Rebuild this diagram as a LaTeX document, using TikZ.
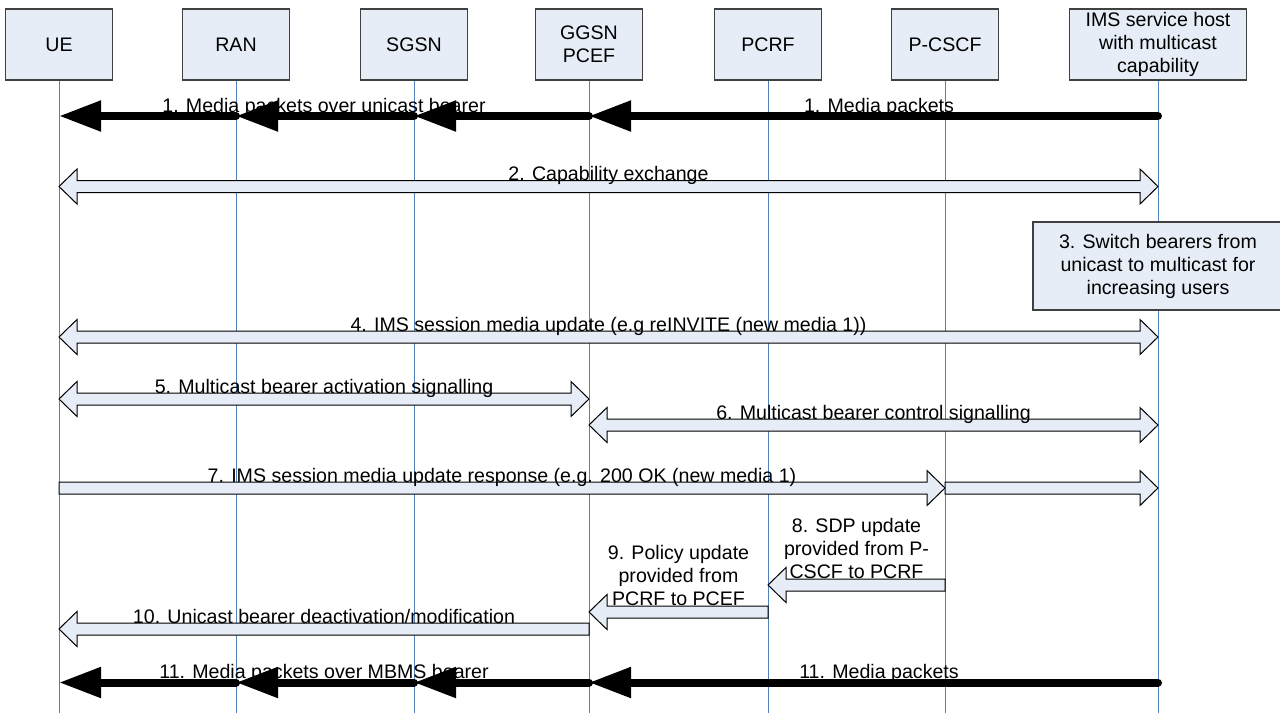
\documentclass[tikz,border=0pt]{standalone}
\usepackage{fontspec}
\setmainfont{Liberation Sans}
\usetikzlibrary{arrows.meta,calc}

\definecolor{boxfill}{RGB}{231,237,247}
\definecolor{lifeblue}{RGB}{79,129,189}
\definecolor{boxline}{RGB}{64,64,64}

\tikzset{
  hdr/.style={draw=boxline, line width=0.75pt, fill=boxfill,
    minimum width=53.5pt, minimum height=35.5pt, inner sep=0pt,
    align=center, font=\fontsize{9.8}{11.5}\selectfont},
  life/.style={draw=lifeblue, line width=0.5pt},
  hollow/.style={draw=black, line width=0.5pt, fill=boxfill, line join=miter},
  media/.style={line width=4pt, line cap=round,
    -{Triangle[length=21pt,width=14.5pt]}},
  lbl/.style={font=\fontsize{9.8}{11.5}\selectfont, inner sep=0pt, anchor=base},
  mlbl/.style={font=\fontsize{9.8}{11.5}\selectfont, inner sep=0pt,
    anchor=south, align=center},
}

% block arrow pointing right: tail on lifeline #1, tip on lifeline #2, row #3
\newcommand\msgR[3]{\filldraw[hollow] let \p1=(#1|-#3), \p2=(#2|-#3) in
  (\x1,\y1+3pt) -- (\x2-9pt,\y1+3pt) -- (\x2-9pt,\y1+8.75pt) -- (\x2,\y1)
  -- (\x2-9pt,\y1-8.75pt) -- (\x2-9pt,\y1-3pt) -- (\x1,\y1-3pt) -- cycle;}
% block arrow pointing left: tail on lifeline #1, tip on lifeline #2, row #3
\newcommand\msgL[3]{\filldraw[hollow] let \p1=(#1|-#3), \p2=(#2|-#3) in
  (\x1,\y1+3pt) -- (\x2+9pt,\y1+3pt) -- (\x2+9pt,\y1+8.75pt) -- (\x2,\y1)
  -- (\x2+9pt,\y1-8.75pt) -- (\x2+9pt,\y1-3pt) -- (\x1,\y1-3pt) -- cycle;}
% two-headed block arrow between lifelines #1 (left) and #2 (right), row #3
\newcommand\msgLR[3]{\filldraw[hollow] let \p1=(#1|-#3), \p2=(#2|-#3) in
  (\x1,\y1) -- (\x1+9pt,\y1+8.75pt) -- (\x1+9pt,\y1+3pt) -- (\x2-9pt,\y1+3pt)
  -- (\x2-9pt,\y1+8.75pt) -- (\x2,\y1) -- (\x2-9pt,\y1-8.75pt)
  -- (\x2-9pt,\y1-3pt) -- (\x1+9pt,\y1-3pt) -- (\x1+9pt,\y1-8.75pt) -- cycle;}

\begin{document}
\begin{tikzpicture}[x=0.5pt,y=-0.5pt]
\useasboundingbox (0,0) rectangle (1280,713);
\coordinate (bot) at (0,713);

% participants
\node[hdr] (ue)    at (59,44.5)  {UE};
\node[hdr] (ran)   at (236,44.5) {RAN};
\node[hdr] (sgsn)  at (414,44.5) {SGSN};
\node[hdr] (ggsn)  at (589,44.5) {GGSN\\PCEF};
\node[hdr] (pcrf)  at (768,44.5) {PCRF};
\node[hdr] (pcscf) at (945,44.5) {P-CSCF};
\node[hdr, minimum width=88.5pt] (ims) at (1158,44.5)
  {IMS service host\\with multicast\\capability};

% lifelines
\foreach \n in {ue,ran,sgsn,ggsn,pcrf,pcscf,ims}
  \draw[life] (\n.south) -- (\n.south |- bot);

% message rows
\coordinate (r1)  at (0,116);
\coordinate (r2)  at (0,186.5);
\coordinate (r4)  at (0,337);
\coordinate (r5)  at (0,399);
\coordinate (r6)  at (0,425);
\coordinate (r7)  at (0,488);
\coordinate (r8)  at (0,585);
\coordinate (r9)  at (0,612);
\coordinate (r10) at (0,629);
\coordinate (r11) at (0,682.5);

% step 3: action box on the service host
\node[hdr, minimum width=125pt, minimum height=44pt] (sw) at (1158,266)
  {3. Switch bearers from\\unicast to multicast for\\increasing users};

% 1. media over unicast
\draw[media] (ims |- r1)  -- (ggsn |- r1);
\draw[media] (ggsn |- r1) -- (sgsn |- r1);
\draw[media] (sgsn |- r1) -- (ran |- r1);
\draw[media] (ran |- r1)  -- (ue |- r1);
\node[lbl] (l1a) at ($(ue|-r1)!.5!(ggsn|-r1)$) [yshift=2pt] {1. Media packets over unicast bearer};
\node[lbl] (l1b) at (879,116) [yshift=2pt] {1. Media packets};

% 2. capability exchange
\msgLR{ue}{ims}{r2}
\node[lbl] (l2) at ($(ue|-r2)!.5!(ims|-r2)$) [yshift=3pt] {2. Capability exchange};

% 4. session media update
\msgLR{ue}{ims}{r4}
\node[lbl] (l4) at ($(ue|-r4)!.5!(ims|-r4)$) [yshift=3pt] {4. IMS session media update (e.g reINVITE (new media 1))};

% 5. activation signalling
\msgLR{ue}{ggsn}{r5}
\node[lbl] (l5) at ($(ue|-r5)!.5!(ggsn|-r5)$) [yshift=3pt] {5. Multicast bearer activation signalling};

% 6. control signalling
\msgLR{ggsn}{ims}{r6}
\node[lbl] (l6) at ($(ggsn|-r6)!.5!(ims|-r6)$) [yshift=3pt] {6. Multicast bearer control signalling};

% 7. update response
\msgR{ue}{pcscf}{r7}
\msgR{pcscf}{ims}{r7}
\node[lbl] (l7) at ($(ue|-r7)!.5!(pcscf|-r7)$) [yshift=3pt] {7. IMS session media update response (e.g. 200 OK (new media 1)};

% 8. SDP update
\msgL{pcscf}{pcrf}{r8}
\node[mlbl] (l8) at ($(pcrf|-r8)!.5!(pcscf|-r8)$) [yshift=3pt] {8. SDP update\\provided from P-\\CSCF to PCRF};

% 9. policy update
\msgL{pcrf}{ggsn}{r9}
\node[mlbl] (l9) at ($(ggsn|-r9)!.5!(pcrf|-r9)$) [yshift=3pt] {9. Policy update\\provided from\\PCRF to PCEF};

% 10. unicast bearer release
\msgL{ggsn}{ue}{r10}
\node[lbl] (l10) at ($(ue|-r10)!.5!(ggsn|-r10)$) [yshift=3pt] {10. Unicast bearer deactivation/modification};

% 11. media over MBMS
\draw[media] (ims |- r11)  -- (ggsn |- r11);
\draw[media] (ggsn |- r11) -- (sgsn |- r11);
\draw[media] (sgsn |- r11) -- (ran |- r11);
\draw[media] (ran |- r11)  -- (ue |- r11);
\node[lbl] (l11a) at ($(ue|-r11)!.5!(ggsn|-r11)$) [yshift=2pt] {11. Media packets over MBMS bearer};
\node[lbl] (l11b) at (879,682.5) [yshift=2pt] {11. Media packets};
\end{tikzpicture}
\end{document}
